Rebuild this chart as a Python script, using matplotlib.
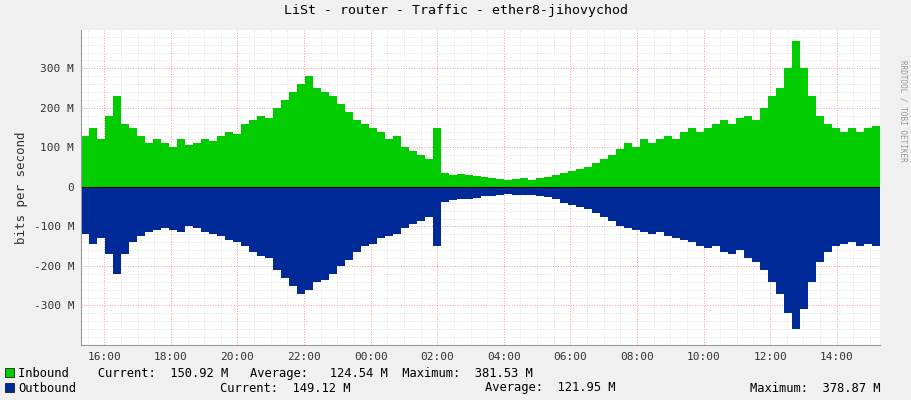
import numpy as np
import matplotlib.pyplot as plt
from matplotlib.ticker import MultipleLocator, FixedLocator

# hodnoty v Mbit/s, krok 0.24 h od 15:17
t_start = 15.3
t_step = 0.24
inbound = [130, 150, 120, 180, 230, 160, 150, 130, 110, 120, 110, 100, 120, 105, 110, 120, 115, 130, 140, 135,
           160, 170, 180, 175, 200, 220, 240, 260, 280, 250, 240, 230, 210, 190, 170, 160, 150, 140, 120, 130,
           100, 90, 80, 70, 150, 35, 30, 32, 30, 28, 25, 22, 20, 18, 20, 22, 18, 22, 25, 30,
           35, 40, 45, 50, 60, 70, 80, 95, 110, 100, 120, 110, 120, 130, 120, 140, 150, 140, 150, 160,
           170, 160, 175, 180, 170, 200, 230, 250, 300, 370, 300, 230, 180, 160, 150, 140, 150, 140, 150, 155]
outbound = [120, 145, 130, 170, 220, 170, 140, 125, 115, 110, 105, 110, 115, 100, 105, 115, 120, 125, 135, 140,
            150, 165, 175, 180, 210, 230, 250, 270, 260, 240, 235, 220, 200, 185, 165, 150, 145, 130, 125, 120,
            105, 95, 85, 75, 150, 38, 32, 30, 30, 27, 24, 22, 20, 19, 21, 20, 20, 23, 26, 30,
            40, 45, 50, 55, 65, 75, 85, 100, 105, 110, 115, 120, 115, 125, 130, 135, 140, 150, 155, 150,
            165, 170, 160, 180, 190, 210, 240, 270, 320, 360, 310, 240, 190, 165, 150, 145, 140, 150, 145, 150]

t = t_start + t_step * np.arange(len(inbound) + 1)
inb = np.append(inbound, inbound[-1])
outb = -np.append(outbound, outbound[-1])

plt.rcParams['font.family'] = 'DejaVu Sans Mono'
plt.rcParams['font.size'] = 8

fig = plt.figure(figsize=(9.11, 4.0), dpi=100, facecolor='#F0F0F0')
ax = fig.add_axes([81/911, 55/400, 799/911, 315/400])
ax.set_facecolor('white')

ax.fill_between(t, 0, inb, step='post', color='#00CC00', lw=0)
ax.fill_between(t, 0, outb, step='post', color='#002A97', lw=0)
ax.axhline(0, color='black', lw=0.8)

ax.set_xlim(t_start, t_start + 24)
ax.set_ylim(-400, 397)

xt = np.arange(16, 40, 2)
ax.xaxis.set_major_locator(FixedLocator(xt))
ax.set_xticklabels(['%02d:00' % (h % 24) for h in xt])
ax.xaxis.set_minor_locator(MultipleLocator(0.5))
ax.yaxis.set_minor_locator(MultipleLocator(20))
yt = np.arange(-300, 400, 100)
ax.set_yticks(yt)
ax.set_yticklabels(['%d M' % v if v != 0 else '0' for v in yt])

ax.grid(which='minor', color='#DDDDDD', linestyle=':', lw=0.6)
ax.grid(which='major', color='#FF9999', linestyle=':', lw=0.7)
ax.set_axisbelow(True)
ax.tick_params(which='both', length=0, pad=5, colors='#333333')
for s in ax.spines.values():
    s.set_visible(False)
ax.spines['left'].set_visible(True)
ax.spines['bottom'].set_visible(True)
ax.spines['left'].set_color('#999999')
ax.spines['bottom'].set_color('#999999')
ax.set_ylabel('bits per second', fontsize=9, color='#333333')

fig.text(0.5, 0.965, 'LiSt - router - Traffic - ether8-jihovychod', ha='center', fontsize=9.5)
fig.text(0.986, 0.85, 'RRDTOOL / TOBI OETIKER', rotation=270, fontsize=5.5, color='#999999',
         va='top', ha='left')

fig.patches.append(plt.Rectangle((5/911, 23/400), 9/911, 9/400, transform=fig.transFigure,
                                 fc='#00CC00', ec='black', lw=0.5))
fig.patches.append(plt.Rectangle((5/911, 8/400), 9/911, 9/400, transform=fig.transFigure,
                                 fc='#002A97', ec='black', lw=0.5))
fig.text(18/911, 27/400, 'Inbound    Current:  150.92 M   Average:   124.54 M  Maximum:  381.53 M',
         fontsize=8.7, va='center')
fig.text(18/911, 12/400, 'Outbound', fontsize=8.7, va='center')
fig.text(220/911, 12/400, 'Current:  149.12 M', fontsize=8.7, va='center')
fig.text(485/911, 12/400, 'Average:  121.95 M', fontsize=8.7, va='center')
fig.text(750/911, 12/400, 'Maximum:  378.87 M', fontsize=8.7, va='center')

fig.savefig('out.png', dpi=100, facecolor=fig.get_facecolor())
